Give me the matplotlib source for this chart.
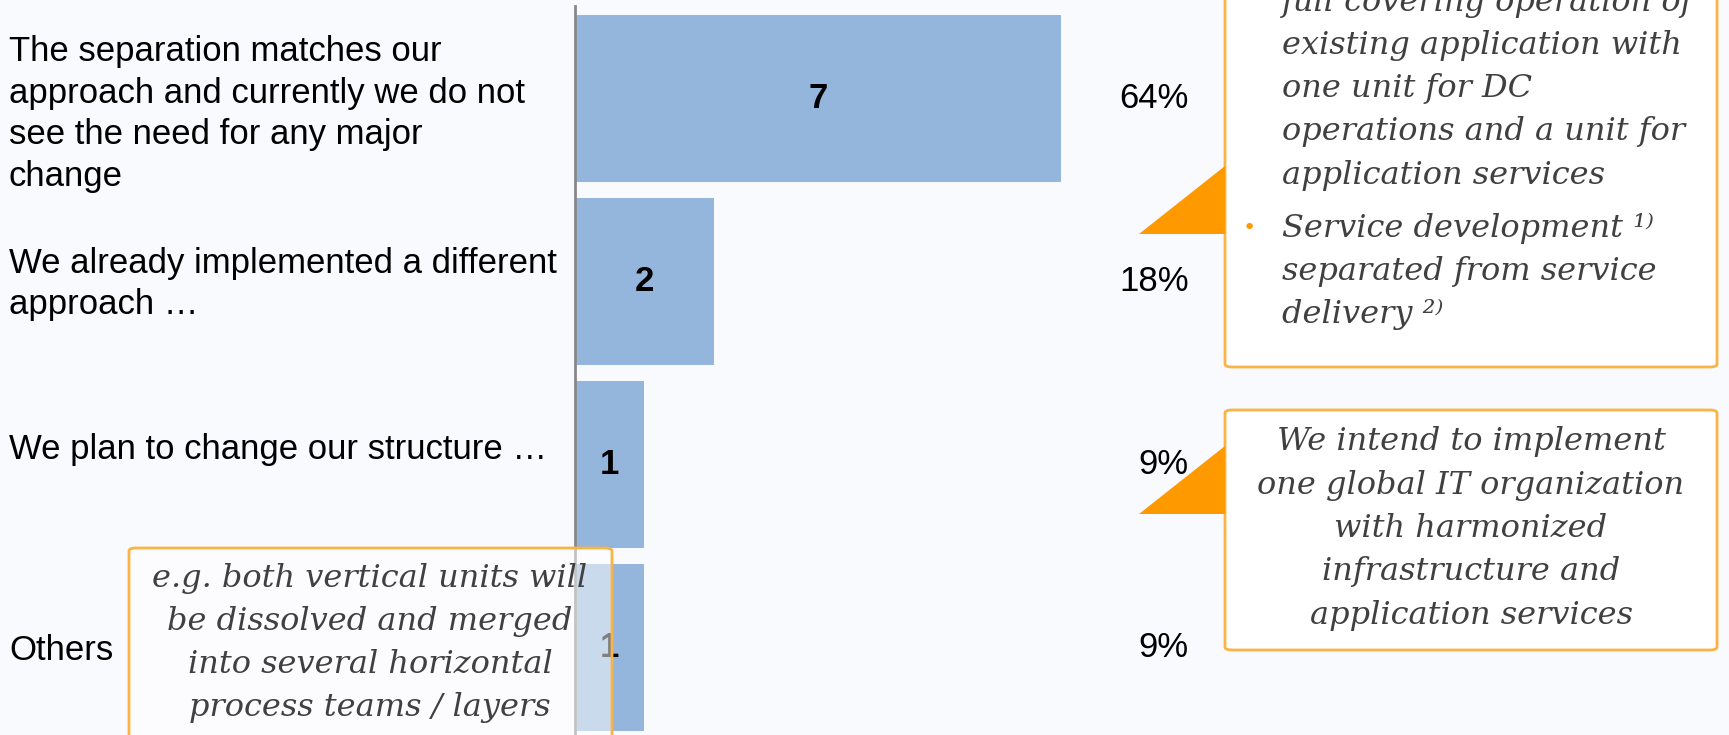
import matplotlib.pyplot as plt
from matplotlib.patches import FancyBboxPatch, Polygon
from matplotlib.transforms import blended_transform_factory

### Survey answers ###

answers = [
    'The separation matches our\napproach and currently we do not\nsee the need for any major\nchange',
    'We already implemented a different\napproach …',
    'We plan to change our structure …',
    'Others',
]
counts = [7, 2, 1, 1]

note_top = [
    'full covering operation of',
    'existing application with',
    'one unit for DC',
    'operations and a unit for',
    'application services',
]
note_top_2 = [
    'Service development ¹⁾',
    'separated from service',
    'delivery ²⁾',
]
note_plan = [
    'We intend to implement',
    'one global IT organization',
    'with harmonized',
    'infrastructure and',
    'application services',
]
note_others = [
    'e.g. both vertical units will',
    'be dissolved and merged',
    'into several horizontal',
    'process teams / layers',
]

W, H = 1729, 735
BG = '#F9FAFD'
BAR = '#95B6DC'
ORANGE = '#FF9900'
EDGE = '#FBB346'
NOTE_TXT = '#404040'
SANS = 'Liberation Sans'
SERIF = ['DejaVu Serif', 'DejaVu Sans']


def fx(px):
    return px / W


def fy(py):
    return 1 - py / H


fig = plt.figure(figsize=(W / 100, H / 100), dpi=100, facecolor=BG)
ax = fig.add_axes([0, 0, 1, 1])
ax.set_facecolor(BG)
for s in ax.spines.values():
    s.set_visible(False)
ax.set_xticks([])
ax.set_yticks([])

# one unit of count = 69.5 px, zero sits at x=574.5 px
unit = 69.5
x0 = 574.5
ax.set_xlim(-x0 / unit, (W - x0) / unit)
# bar pitch 183 px, first bar centred at 98.5 px from the top
pitch = 183
c0 = 98.5
ax.set_ylim((H - c0) / pitch, -c0 / pitch)

ypos = list(range(len(counts)))
ax.barh(ypos, counts, height=0.91, color=BAR, zorder=1)
ax.axvline(0, ymin=0, ymax=1 - 6 / H, color='#888888', lw=2, zorder=2)

total = sum(counts)
by = blended_transform_factory(fig.transFigure, ax.transData)
for y, c in zip(ypos, counts):
    ax.text(c / 2, y, str(c), ha='center', va='center', fontsize=25,
            fontweight='bold', family=SANS, color='black', zorder=2)
    ax.text(fx(1189), y, f'{round(c / total * 100)}%', transform=by,
            ha='right', va='center', fontsize=25, family=SANS, color='black')

# answer texts on the left
label_y = [114, 284, 449, 650]
for txt, py in zip(answers, label_y):
    fig.text(fx(9), fy(py), txt, ha='left', va='center', fontsize=25,
             family=SANS, color='black', linespacing=1.33)


def callout(x1, y1, x2, y2, alpha=1.0):
    box = FancyBboxPatch((fx(x1), fy(y2)), fx(x2) - fx(x1), fy(y1) - fy(y2),
                         boxstyle='round,pad=0,rounding_size=0.004',
                         transform=fig.transFigure, facecolor=(1, 1, 1, alpha),
                         edgecolor=EDGE, lw=2, zorder=3)
    fig.add_artist(box)


def pointer(tip_x, tip_y, base_x, top_y):
    tri = Polygon([(fx(tip_x), fy(tip_y)), (fx(base_x), fy(tip_y)),
                   (fx(base_x), fy(top_y))], closed=True,
                  transform=fig.transFigure, facecolor=ORANGE,
                  edgecolor='none', zorder=3)
    fig.add_artist(tri)


def note_lines(lines, x, y_first, step, ha='left'):
    for i, line in enumerate(lines):
        fig.text(fx(x), fy(y_first + i * step), line, ha=ha, va='center',
                 fontsize=23, style='italic', family=SERIF, color=NOTE_TXT,
                 zorder=4)


# top right callout
callout(1225, -60, 1717, 367)
pointer(1139, 234, 1225, 166)
note_lines(note_top, 1282, 2, 43.3)
note_lines(note_top_2, 1282, 228, 43)
fig.text(fx(1249), fy(228), '•', ha='center', va='center', fontsize=16,
         color=ORANGE, zorder=4)

# callout for the planned change
callout(1225, 410, 1717, 650)
pointer(1139, 514, 1225, 446)
note_lines(note_plan, 1471, 442, 43.3, ha='center')

# callout over the "Others" bar
callout(129, 548, 612, 800, alpha=0.5)
note_lines(note_others, 370, 578, 43.3, ha='center')

fig.savefig('out.png', dpi=100, facecolor=BG)
